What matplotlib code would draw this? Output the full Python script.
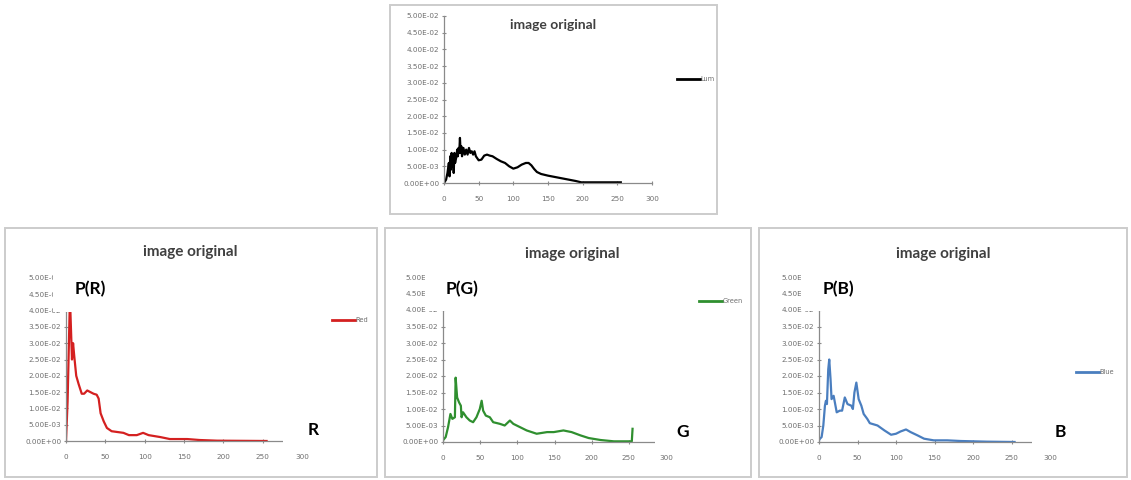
import matplotlib
matplotlib.use("Agg")
import matplotlib.pyplot as plt
from matplotlib.patches import Rectangle
from matplotlib.ticker import FixedLocator, FuncFormatter

W, H = 1131, 480

# ---- histogram data (intensity level -> probability) ----
lum_x = [0, 3, 5, 7, 8, 9, 10, 11, 12, 13, 14, 15, 16, 18, 19, 20, 21, 22, 23, 24,
         25, 26, 28, 30, 32, 34, 36, 38, 40, 42, 44, 46, 50, 54, 58, 62, 66, 70,
         76, 82, 88, 94, 100, 106, 112, 118, 122, 126, 130, 134, 140, 150, 160,
         170, 180, 190, 198, 210, 230, 255]
lum_p = [0.0, 0.001, 0.003, 0.006, 0.002, 0.008, 0.004, 0.009, 0.005, 0.0085,
         0.003, 0.009, 0.006, 0.008, 0.010, 0.008, 0.0105, 0.009, 0.0135, 0.009,
         0.011, 0.008, 0.0105, 0.0085, 0.010, 0.0085, 0.0105, 0.009, 0.0095,
         0.0085, 0.0095, 0.008, 0.0068, 0.007, 0.0082, 0.0085, 0.0082, 0.008,
         0.0072, 0.0065, 0.006, 0.005, 0.0043, 0.0047, 0.0055, 0.006, 0.006,
         0.0053, 0.0042, 0.0033, 0.0027, 0.0022, 0.0018, 0.0014, 0.001, 0.0006,
         0.0002, 0.0002, 0.0002, 0.0002]

red_x = [0, 2, 5, 7.6, 9, 10.5, 13, 16, 20, 23, 27, 31, 35, 39, 41.5, 44, 48, 52,
         58, 67, 73, 80, 90, 98, 105, 120, 132, 154, 170, 192, 255]
red_p = [0.0, 0.012, 0.044, 0.025, 0.030, 0.026, 0.020, 0.0175, 0.0145, 0.0145,
         0.0155, 0.015, 0.0145, 0.0142, 0.013, 0.0085, 0.006, 0.004, 0.003,
         0.0027, 0.0025, 0.0018, 0.0018, 0.0025, 0.0018, 0.0012, 0.0006, 0.0006,
         0.0003, 0.0001, 0.0]

green_x = [0, 3.6, 6.8, 10, 12.6, 16, 17, 19, 21.6, 24, 25, 27, 31.5, 36, 40.5,
           45, 49.5, 52, 54, 57.6, 63, 67.5, 76.6, 83, 90, 94.6, 103.6, 112.6,
           126, 140, 149, 162, 173, 185, 196, 212, 230, 254, 255]
green_p = [0.0005, 0.0015, 0.0045, 0.0085, 0.007, 0.0075, 0.0195, 0.0135, 0.012,
           0.011, 0.0075, 0.009, 0.0075, 0.0065, 0.006, 0.0075, 0.010, 0.0125,
           0.0095, 0.008, 0.0075, 0.006, 0.0055, 0.005, 0.0065, 0.0055, 0.0045,
           0.0035, 0.0025, 0.003, 0.003, 0.0035, 0.003, 0.002, 0.0012, 0.0006,
           0.0002, 0.0002, 0.004]

blue_x = [0, 1.3, 3.4, 5.6, 7.7, 9, 10.3, 12, 13.3, 15, 16.3, 19, 20.6, 23, 27,
          30, 33.5, 37, 42, 44, 46, 48.5, 51.5, 55, 58, 62.7, 66, 76, 85, 93.6,
          100, 106, 113, 119, 128, 136.5, 149, 166.5, 184, 218, 254]
blue_p = [0.0005, 0.001, 0.0015, 0.005, 0.011, 0.0125, 0.0115, 0.022, 0.025,
          0.019, 0.013, 0.014, 0.012, 0.009, 0.0095, 0.0095, 0.0135, 0.0115,
          0.011, 0.010, 0.015, 0.018, 0.013, 0.011, 0.0085, 0.007, 0.0057, 0.005,
          0.0035, 0.0022, 0.0025, 0.0032, 0.0038, 0.003, 0.002, 0.001, 0.0005,
          0.0005, 0.0003, 0.0001, 0.0]

y_ticks = [i * 0.005 for i in range(11)]
x_ticks = [0, 50, 100, 150, 200, 250, 300]
title_text = "image original"

# ---- layout helpers (pixel -> figure fraction) ----
def fx(px):
    return px / W

def fy(py):
    return 1 - py / H

fig = plt.figure(figsize=(W / 100, H / 100), dpi=100)
fig.patch.set_facecolor("white")

AXIS_GREY = "#8a8a8a"
LABEL_GREY = "#6e6e6e"


def panel_frame(x0, y0, x1, y1):
    fig.add_artist(Rectangle((fx(x0), fy(y1)), fx(x1) - fx(x0), fy(y0) - fy(y1),
                             transform=fig.transFigure, fill=False,
                             edgecolor="#cccccc", linewidth=1.4))


def make_axes(x0, x300, y0, y5, xs, ys, color, name, legend_xy, title_xy,
              title_size, lw=1.6):
    ax = fig.add_axes([fx(x0), fy(y0), fx(x300) - fx(x0), fy(y5) - fy(y0)])
    ax.set_facecolor("none")
    ax.plot(xs, ys, color=color, lw=lw, label=name, solid_joinstyle="round")
    ax.set_xlim(0, 300)
    ax.set_ylim(0, 0.05)
    ax.xaxis.set_major_locator(FixedLocator(x_ticks))
    ax.yaxis.set_major_locator(FixedLocator(y_ticks))
    ax.yaxis.set_major_formatter(FuncFormatter(lambda v, p: f"{v:.2E}"))
    ax.xaxis.set_major_formatter(FuncFormatter(lambda v, p: f"{v:.0f}"))
    for s in ("top", "right"):
        ax.spines[s].set_visible(False)
    for s in ("left", "bottom"):
        ax.spines[s].set_color(AXIS_GREY)
        ax.spines[s].set_linewidth(0.9)
    ax.tick_params(axis="both", direction="inout", length=3, width=0.8,
                   color=AXIS_GREY, labelcolor=LABEL_GREY, labelsize=5.2)
    ax.tick_params(axis="x", pad=8)
    ax.tick_params(axis="y", pad=2)
    leg = ax.legend(loc="center left", bbox_to_anchor=(fx(legend_xy[0]), fy(legend_xy[1])),
                    bbox_transform=fig.transFigure, frameon=False, fontsize=4.8,
                    handlelength=3.4, handletextpad=0.15, borderpad=0, borderaxespad=0)
    for t in leg.get_texts():
        t.set_color(LABEL_GREY)
    for l in leg.get_lines():
        l.set_linewidth(2.0)
    fig.text(fx(title_xy[0]), fy(title_xy[1]), title_text, ha="center", va="center",
             fontsize=title_size, fontweight="bold", color="#404040", family="Lato")
    return ax


def white_label(x0, y0, x1, y1, text, tx, ty):
    fig.add_artist(Rectangle((fx(x0), fy(y1)), fx(x1) - fx(x0), fy(y0) - fy(y1),
                             transform=fig.transFigure, facecolor="white",
                             edgecolor="none", zorder=10))
    fig.text(fx(tx), fy(ty), text, ha="center", va="center", fontsize=12.5,
             fontweight="bold", color="black", family="Lato", zorder=11)


# frames
panel_frame(390, 5, 717, 214)
panel_frame(5, 228, 377, 477)
panel_frame(385, 228, 751, 477)
panel_frame(759, 228, 1127, 477)

# luminance
make_axes(444, 652, 183, 16, lum_x, lum_p, "black", "Lum", (677, 79), (553, 25), 10)
# red / green / blue
make_axes(66, 302, 441, 278, red_x, red_p, "#d42020", "Red", (332, 320), (190, 252), 11)
make_axes(443, 666, 442, 277, green_x, green_p, "#2f8f2f", "Green", (699, 301), (572, 254), 11)
make_axes(819, 1050, 442, 277, blue_x, blue_p, "#4a7ebf", "Blue", (1076, 372), (943, 254), 11)

# axis annotations
white_label(53, 265, 128, 312, "P(R)", 90, 289)
white_label(283, 407, 340, 452, "R", 313, 430)
white_label(425, 265, 498, 311, "P(G)", 462, 289)
white_label(655, 407, 710, 452, "G", 683, 432)
white_label(801, 265, 874, 311, "P(B)", 838, 289)
white_label(1032, 407, 1087, 452, "B", 1060, 432)

fig.savefig("out.png", dpi=100)
